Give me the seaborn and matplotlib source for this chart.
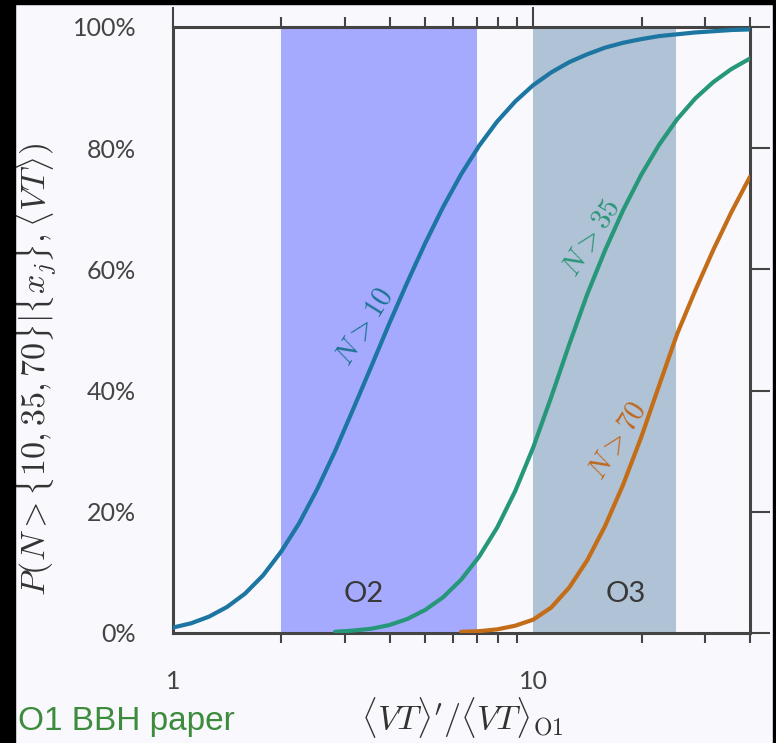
import numpy as np
import pandas as pd
import matplotlib
matplotlib.use("Agg")
import matplotlib.pyplot as plt
from matplotlib.patches import Rectangle
from matplotlib.ticker import FixedLocator, NullFormatter
import seaborn as sns

# ---- data (values in %) ----
x_grid = [1.0, 1.122, 1.259, 1.413, 1.585, 1.778, 1.995, 2.239, 2.512, 2.818, 3.162,
          3.548, 3.981, 4.467, 5.012, 5.623, 6.310, 7.079, 7.943, 8.913, 10.0,
          11.22, 12.59, 14.13, 15.85, 17.78, 19.95, 22.39, 25.12, 28.18, 31.62, 35.48, 40.0]
NA = np.nan
p_n10 = [0.9, 1.6, 2.7, 4.3, 6.5, 9.5, 13.4, 18.1, 23.7, 30.0, 36.9,
         43.9, 51.0, 57.8, 64.3, 70.3, 75.7, 80.4, 84.4, 87.7, 90.4,
         92.5, 94.2, 95.5, 96.6, 97.4, 98.0, 98.5, 98.8, 99.1, 99.3, 99.5, 99.6]
p_n35 = [NA, NA, NA, NA, NA, NA, NA, NA, NA, 0.2, 0.4,
         0.7, 1.3, 2.3, 3.8, 5.9, 8.8, 12.6, 17.4, 23.4, 30.6,
         38.9, 47.6, 55.9, 63.2, 69.8, 75.6, 80.6, 84.8, 88.2, 90.9, 93.05, 94.8]
p_n70 = [NA, NA, NA, NA, NA, NA, NA, NA, NA, NA, NA,
         NA, NA, NA, NA, NA, 0.2, 0.3, 0.6, 1.2, 2.2,
         4.2, 7.5, 12.0, 17.7, 24.5, 32.3, 40.9, 49.4, 56.5, 63.2, 69.4, 75.3]

series_names = ["N>10", "N>35", "N>70"]
series_colors = ["#1d76a2", "#27977a", "#c46d18"]
label_colors = ["#1a7393", "#2a9577", "#c0671a"]
label_texts = [r"$N{>}10$", r"$N{>}35$", r"$N{>}70$"]
label_x = [3.41, 14.5, 17.1]
label_y = [50.5, 65.2, 31.8]

run_names = ["O2", "O3"]
run_start = [2.0, 10.0]
run_end = [7.0, 25.0]
run_colors = ["#a6aaff", "#b0c2d6"]
run_label_x = [3.39, 18.1]
run_label_y = [6.4, 6.4]

y_ticks = [0, 20, 40, 60, 80, 100]
y_ticklabels = ["0%", "20%", "40%", "60%", "80%", "100%"]
x_major = [1, 10]
x_majorlabels = ["1", "10"]
x_minor = [2, 3, 4, 5, 6, 7, 8, 9, 20, 30, 40]

df = pd.concat([
    pd.DataFrame({"x": x_grid, "p": p_n10, "series": series_names[0]}),
    pd.DataFrame({"x": x_grid, "p": p_n35, "series": series_names[1]}),
    pd.DataFrame({"x": x_grid, "p": p_n70, "series": series_names[2]}),
], ignore_index=True).dropna()

# ---- styling ----
sns.set_theme(style="white")
plt.rcParams["mathtext.fontset"] = "cm"
plt.rcParams["font.family"] = ["Lato", "DejaVu Sans"]

BG = "#f8f8fd"
DARK = "#444444"

fig = plt.figure(figsize=(7.76, 7.43), dpi=100, facecolor=BG)
ax = fig.add_axes([173/776, 1-633/743, (750-173)/776, (633-27)/743])
ax.set_facecolor(BG)
ax.set_xscale("log")

for s, e, c in zip(run_start, run_end, run_colors):
    ax.axvspan(s, e, color=c, lw=0, zorder=0)

sns.lineplot(data=df, x="x", y="p", hue="series", palette=dict(zip(series_names, series_colors)),
             linewidth=3.0, legend=False, estimator=None, sort=True, ax=ax, zorder=3)

ax.set_xlim(1, 40)
ax.set_ylim(0, 100)

for t, xx, yy, c in zip(label_texts, label_x, label_y, label_colors):
    ax.text(xx, yy, t, color=c, fontsize=21, rotation=58, ha="center", va="center",
            rotation_mode="anchor", zorder=4)

for t, xx, yy in zip(run_names, run_label_x, run_label_y):
    ax.text(xx, yy, t, color="#383838", fontsize=21, ha="center", va="center", zorder=4)

ax.set_yticks(y_ticks)
ax.set_yticklabels(y_ticklabels)
ax.xaxis.set_major_locator(FixedLocator(x_major))
ax.set_xticklabels(x_majorlabels)
ax.xaxis.set_minor_locator(FixedLocator(x_minor))
ax.xaxis.set_minor_formatter(NullFormatter())

ax.tick_params(axis="both", which="major", direction="out", length=14.4, width=1.5,
               color=DARK, labelcolor=DARK, labelsize=18, pad=12,
               top=True, right=True, labeltop=False, labelright=False)
ax.tick_params(axis="x", which="minor", direction="out", length=7.5, width=1.5,
               color=DARK, top=True, bottom=True)
for sp in ax.spines.values():
    sp.set_visible(True)
    sp.set_color(DARK)
    sp.set_linewidth(2.2)
ax.set_xlabel("")
ax.set_ylabel("")

fig.text(35/776, 1-370/743, r"$P(N > \{10, 35, 70\} | \{x_j\}, \langle VT\rangle)$",
         rotation=90, ha="center", va="center", fontsize=24.5, color="#333333")
fig.text(462/776, 1-717/743, r"$\langle VT\rangle' / \langle VT\rangle_{\mathrm{O1}}$",
         ha="center", va="center", fontsize=24.5, color="#333333")
fig.text(18/776, 1-730/743, "O1 BBH paper", ha="left", va="baseline", fontsize=24,
         color="#3d8b3d", family=["Liberation Sans", "DejaVu Sans"])

# screenshot black frame
fig.patches.append(Rectangle((0, 0), 15/776, 1, transform=fig.transFigure, color="black", zorder=10))
fig.patches.append(Rectangle((0, 1-4/743), 1, 4/743, transform=fig.transFigure, color="black", zorder=10))
fig.patches.append(Rectangle((773/776, 0), 3/776, 1, transform=fig.transFigure, color="black", zorder=10))

fig.savefig("out.png", dpi=100, facecolor=BG)
